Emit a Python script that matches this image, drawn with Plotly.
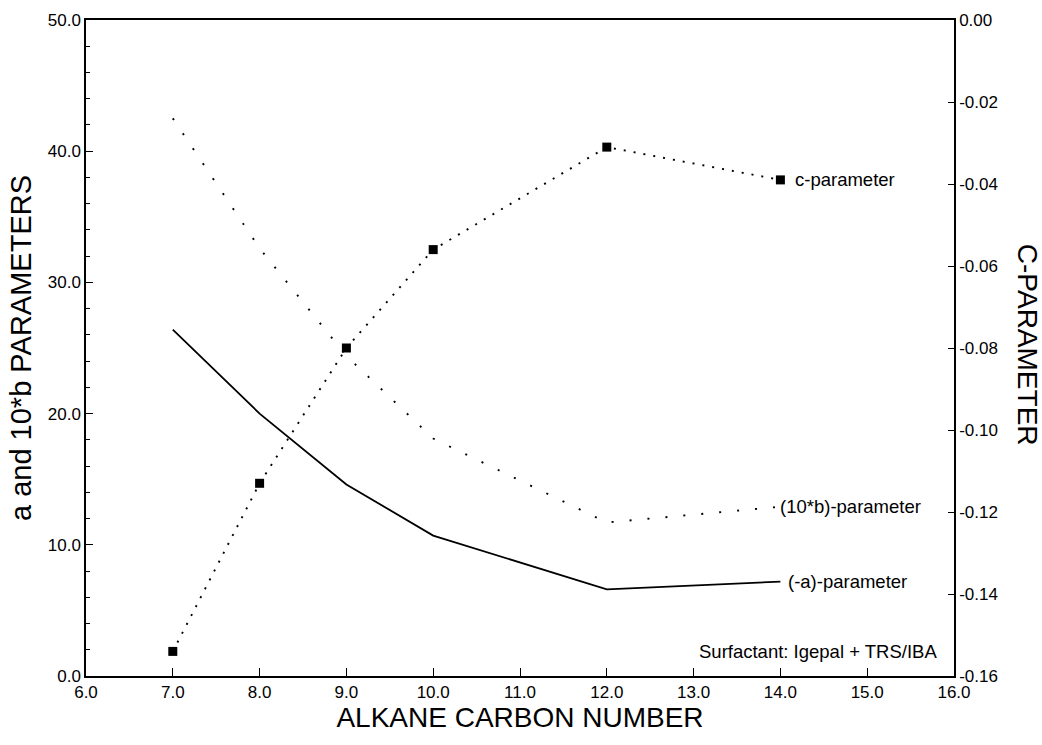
import plotly.graph_objects as go

# Data
carbon_number = [7, 8, 9, 10, 12, 14]
neg_a_param = [26.4, 20.0, 14.6, 10.7, 6.6, 7.2]        # (-a)-parameter, left axis
b10_param = [42.5, 32.6, 24.4, 18.1, 11.7, 12.9]        # (10*b)-parameter, left axis
c_param = [-0.154, -0.113, -0.080, -0.056, -0.031, -0.039]  # c-parameter, right axis

x_ticks = [6, 7, 8, 9, 10, 11, 12, 13, 14, 15, 16]
x_ticktext = ["6.0", "7.0", "8.0", "9.0", "10.0", "11.0", "12.0", "13.0", "14.0", "15.0", "16.0"]
y_ticks = [0, 10, 20, 30, 40, 50]
y_ticktext = ["0.0", "10.0", "20.0", "30.0", "40.0", "50.0"]
y2_ticks = [-0.16, -0.14, -0.12, -0.10, -0.08, -0.06, -0.04, -0.02, 0.0]
y2_ticktext = ["-0.16", "-0.14", "-0.12", "-0.10", "-0.08", "-0.06", "-0.04", "-0.02", "0.00"]

FONT = "Liberation Sans, Arial, Helvetica, sans-serif"

fig = go.Figure()
fig.add_trace(go.Scatter(
    x=carbon_number, y=neg_a_param, mode="lines", name="(-a)-parameter",
    line=dict(color="black", width=1.8), yaxis="y"))
fig.add_trace(go.Scatter(
    x=carbon_number, y=b10_param, mode="lines", name="(10*b)-parameter",
    line=dict(color="black", width=1.9, dash="2px,16px"), yaxis="y"))
fig.add_trace(go.Scatter(
    x=carbon_number, y=c_param, mode="lines+markers", name="c-parameter",
    line=dict(color="black", width=1.9, dash="2px,8px"),
    marker=dict(symbol="square", size=9, color="black"), yaxis="y2"))

axis_common = dict(showgrid=False, zeroline=False, showline=True,
                   linecolor="black", linewidth=1.5,
                   tickfont=dict(family=FONT, size=17, color="black"),
                   ticks="inside", tickcolor="black", tickwidth=1.3)

fig.update_layout(
    width=1042, height=745,
    margin=dict(l=86, r=88, t=20, b=69),
    paper_bgcolor="white", plot_bgcolor="white",
    showlegend=False,
    font=dict(family=FONT, color="black"),
    xaxis=dict(range=[6, 16], tickvals=x_ticks, ticktext=x_ticktext,
               ticklen=8, mirror=True,
               title=dict(text="ALKANE CARBON NUMBER",
                          font=dict(family=FONT, size=28, color="black"),
                          standoff=5),
               **axis_common),
    yaxis=dict(range=[0, 50], tickvals=y_ticks, ticktext=y_ticktext,
               ticklen=7,
               minor=dict(dtick=2, tick0=0, ticks="inside", ticklen=4,
                          tickcolor="black", tickwidth=1),
               title=dict(text="a and 10*b PARAMETERS",
                          font=dict(family=FONT, size=29, color="black"),
                          standoff=8),
               **axis_common),
    yaxis2=dict(range=[-0.16, 0], tickvals=y2_ticks, ticktext=y2_ticktext,
                overlaying="y", side="right", anchor="x", ticklen=6,
                **axis_common),
)

ann_font = dict(family=FONT, size=18.5, color="black")
fig.add_annotation(x=carbon_number[-1], y=c_param[-1], xref="x", yref="y2",
                   text="c-parameter", showarrow=False, xanchor="left",
                   yanchor="middle", xshift=13, font=ann_font)
fig.add_annotation(x=carbon_number[-1], y=b10_param[-1], xref="x", yref="y",
                   text="(10*b)-parameter", showarrow=False, xanchor="left",
                   yanchor="middle", xshift=-2, font=ann_font)
fig.add_annotation(x=carbon_number[-1], y=neg_a_param[-1], xref="x", yref="y",
                   text="(-a)-parameter", showarrow=False, xanchor="left",
                   yanchor="middle", xshift=6, font=ann_font)
fig.add_annotation(x=0.983, y=0.038, xref="paper", yref="paper",
                   text="Surfactant: Igepal + TRS/IBA", showarrow=False,
                   xanchor="right", yanchor="middle", font=ann_font)
fig.add_annotation(x=1.084, y=0.505, xref="paper", yref="paper",
                   text="C-PARAMETER", showarrow=False, textangle=90,
                   xanchor="center", yanchor="middle",
                   font=dict(family=FONT, size=28, color="black"))

fig.write_html("out.html")
